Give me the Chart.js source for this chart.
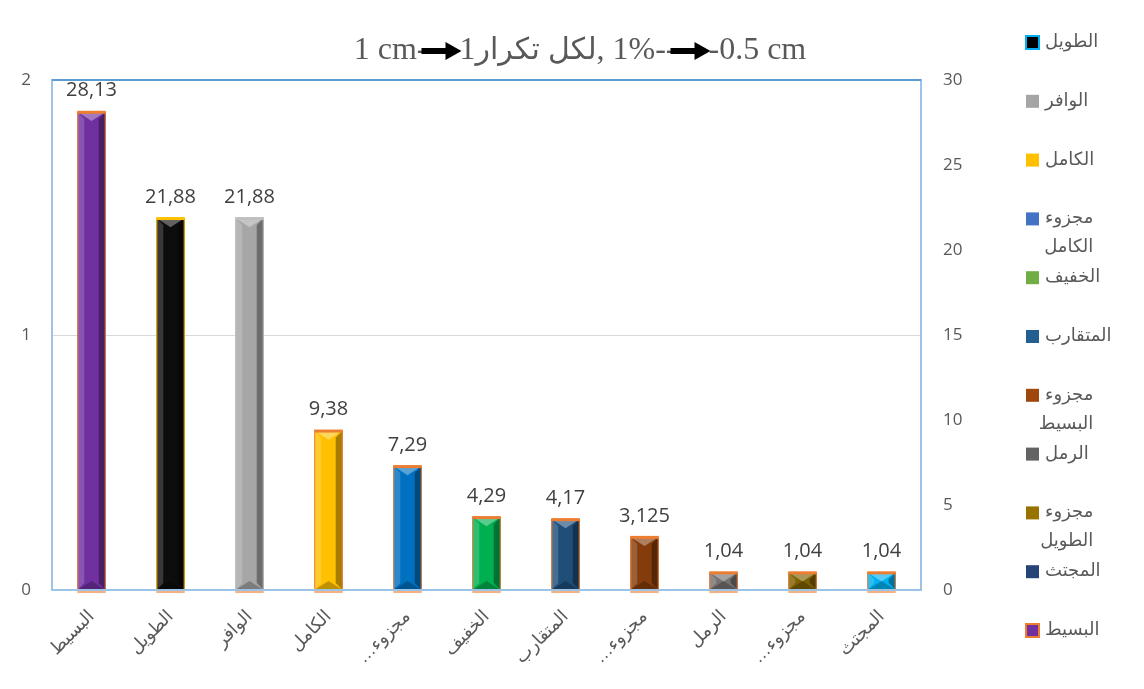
<!DOCTYPE html>
<html>
<head>
<meta charset="utf-8">
<script src="https://cdn.jsdelivr.net/npm/chart.js@4.4.0/dist/chart.umd.min.js"></script>
<style>
    html, body { margin: 0; padding: 0; background: #fff; }
    #wrap { width: 1144px; height: 689px; position: relative; }
</style>
</head>
<body>
<div id="wrap"><canvas id="myChart" width="1144" height="689"></canvas></div>
<script>
    // البحور الشعرية ونسبها
    const categories = ['البسيط', 'الطويل', 'الوافر', 'الكامل', 'مجزوء الكامل', 'الخفيف',
        'المتقارب', 'مجزوء البسيط', 'الرمل', 'مجزوء الطويل', 'المجتث'];
    const percents = [28.13, 21.88, 21.88, 9.38, 7.29, 4.29, 4.17, 3.125, 1.04, 1.04, 1.04];
    const barColors = ['#7030A0', '#0D0D0D', '#A6A6A6', '#FFC000', '#0070C0', '#00B050',
        '#1F4E79', '#843C0C', '#767171', '#7F6000', '#00B0F0'];
    const capColors = ['#ED7D31', '#FFC000', '#BFBFBF', '#ED7D31', '#ED7D31', '#ED7D31',
        '#ED7D31', '#ED7D31', '#ED7D31', '#ED7D31', '#ED7D31'];

    const leftTicks = [0, 1, 2];
    const rightTicks = [0, 5, 10, 15, 20, 25, 30];

    const legendTexts = [['الطويل'], ['الوافر'], ['الكامل'], ['مجزوء', 'الكامل'], ['الخفيف'],
        ['المتقارب'], ['مجزوء', 'البسيط'], ['الرمل'], ['مجزوء', 'الطويل'], ['المجتث'], ['البسيط']];
    const legendColors = ['#000000', '#A5A5A5', '#FFC000', '#4472C4', '#70AD47',
        '#255E91', '#9E480E', '#636363', '#997300', '#264478', '#7030A0'];
    const legendBorders = ['#00B0F0', null, null, null, null, null, null, null, null, null, '#ED7D31'];

    const titleParts = ['1 cm-', '>', '1', 'لكل تكرار', ', 1%--', '>', '-0.5 cm'];

    const grey = '#595959';
    const arFont = '"Liberation Sans", "DejaVu Sans", sans-serif';
    const serifFont = '"Liberation Serif", "DejaVu Serif", serif';

    function fmt(v) {
        return String(v).replace('.', ',');
    }

    function isArabic(s) {
        return /[\u0600-\u06FF]/.test(s);
    }

    // relieve de las barras + etiquetas de valor
    const barStyle = {
        id: 'barStyle',
        afterDatasetsDraw(chart) {
            const ctx = chart.ctx;
            const meta = chart.getDatasetMeta(0);
            meta.data.forEach((bar, i) => {
                const w = bar.width;
                const x0 = bar.x - w / 2, x1 = bar.x + w / 2;
                const top = bar.y, bottom = bar.base;
                const b = Math.min(7, (bottom - top) / 2);
                ctx.save();
                // cara izquierda clara
                ctx.fillStyle = 'rgba(255,255,255,0.18)';
                ctx.beginPath();
                ctx.moveTo(x0, top); ctx.lineTo(x0 + b, top + b); ctx.lineTo(x0 + b, bottom - b); ctx.lineTo(x0, bottom);
                ctx.fill();
                // cara derecha oscura
                ctx.fillStyle = 'rgba(0,0,0,0.35)';
                ctx.beginPath();
                ctx.moveTo(x1, top); ctx.lineTo(x1 - b, top + b); ctx.lineTo(x1 - b, bottom - b); ctx.lineTo(x1, bottom);
                ctx.fill();
                // arriba
                ctx.fillStyle = 'rgba(255,255,255,0.35)';
                ctx.beginPath();
                ctx.moveTo(x0, top); ctx.lineTo(x1, top); ctx.lineTo(bar.x, top + b * 1.3);
                ctx.fill();
                // abajo
                ctx.fillStyle = 'rgba(0,0,0,0.25)';
                ctx.beginPath();
                ctx.moveTo(x0, bottom); ctx.lineTo(x1, bottom); ctx.lineTo(bar.x, bottom - b * 1.3);
                ctx.fill();
                // borde
                ctx.strokeStyle = capColors[i];
                ctx.lineWidth = 1;
                ctx.strokeRect(x0 + 0.5, top + 0.5, w - 1, bottom - top);
                ctx.fillStyle = capColors[i];
                ctx.fillRect(x0, top - 1, w, 3);
                ctx.fillStyle = '#F4B183';
                ctx.fillRect(x0, bottom, w, 3);

                ctx.fillStyle = '#404040';
                ctx.font = '20px "Open Sans", sans-serif';
                ctx.textAlign = 'center';
                ctx.textBaseline = 'bottom';
                ctx.fillText(fmt(percents[i]), bar.x, top - 11);
                ctx.restore();
            });
        }
    };

    // marco del área + título + leyenda
    const frame = {
        id: 'frame',
        afterDraw(chart) {
            const ctx = chart.ctx;
            const a = chart.chartArea;
            ctx.save();
            ctx.strokeStyle = '#9DC3E6';
            ctx.lineWidth = 2;
            ctx.strokeRect(a.left, a.top, a.right - a.left, a.bottom - a.top);
            ctx.strokeStyle = '#5B9BD5';
            ctx.beginPath(); ctx.moveTo(a.left, a.top); ctx.lineTo(a.right, a.top); ctx.stroke();

            // título
            ctx.textBaseline = 'middle';
            ctx.textAlign = 'left';
            const arrowLen = 40;
            const fontFor = p => isArabic(p) ? '30px ' + arFont : '32px ' + serifFont;
            let total = 0;
            titleParts.forEach(p => {
                if (p === '>') { total += arrowLen - 8; return; }
                ctx.font = fontFor(p);
                total += ctx.measureText(p).width;
            });
            let x = 580 - total / 2;
            const y = 51;
            titleParts.forEach(p => {
                if (p === '>') {
                    x -= 6;
                    ctx.fillStyle = '#000';
                    ctx.beginPath();
                    ctx.rect(x, y - 3, arrowLen - 14, 6);
                    ctx.moveTo(x + arrowLen - 16, y - 9);
                    ctx.lineTo(x + arrowLen, y);
                    ctx.lineTo(x + arrowLen - 16, y + 9);
                    ctx.closePath();
                    ctx.fill();
                    x += arrowLen - 2;
                } else {
                    ctx.font = fontFor(p);
                    ctx.fillStyle = grey;
                    ctx.fillText(p, x, y);
                    x += ctx.measureText(p).width;
                }
            });

            // leyenda
            ctx.font = '18px ' + arFont;
            legendTexts.forEach((lines, i) => {
                const cy = 42 + i * 58.8;
                ctx.fillStyle = legendColors[i];
                ctx.fillRect(1026, cy - 6, 13, 13);
                if (legendBorders[i]) {
                    ctx.strokeStyle = legendBorders[i];
                    ctx.lineWidth = 2;
                    ctx.strokeRect(1026, cy - 6, 13, 13);
                }
                ctx.fillStyle = grey;
                ctx.textAlign = 'left';
                ctx.fillText(lines[0], 1045, cy);
                const right = 1045 + ctx.measureText(lines[0]).width;
                if (lines[1]) {
                    ctx.textAlign = 'right';
                    ctx.fillText(lines[1], right, cy + 29);
                }
            });
            ctx.restore();
        }
    };

    var ctx = document.getElementById('myChart').getContext('2d');
    var myChart = new Chart(ctx, {
        type: 'bar',
        data: {
            labels: categories,
            datasets: [{
                data: percents,
                yAxisID: 'yRight',
                backgroundColor: barColors,
                borderWidth: 0,
                barPercentage: 0.36,
                categoryPercentage: 1
            }]
        },
        options: {
            responsive: false,
            animation: false,
            layout: { padding: { top: 80, left: 0, right: 0, bottom: 0 } },
            plugins: {
                legend: { display: false },
                title: { display: false },
                tooltip: { enabled: false }
            },
            scales: {
                x: {
                    grid: { display: false },
                    border: { display: false },
                    ticks: {
                        minRotation: 45, maxRotation: 45, padding: 8,
                        color: grey,
                        font: { size: 18, family: arFont },
                        callback: function (v) {
                            const l = this.getLabelForValue(v);
                            // RLM keeps the ellipsis on the Arabic side
                            return l.indexOf(' ') > 0 ? l.split(' ')[0] + '…\u200F' : l;
                        }
                    },
                    afterFit: s => { s.height = 99; }
                },
                yLeft: {
                    position: 'left',
                    min: 0, max: 2,
                    afterBuildTicks: s => { s.ticks = leftTicks.map(v => ({ value: v })); },
                    grid: { color: '#D9D9D9', drawTicks: false },
                    border: { display: false },
                    ticks: { padding: 21, color: grey, font: { size: 17, family: '"Open Sans", sans-serif' } },
                    afterFit: s => { s.width = 52; }
                },
                yRight: {
                    position: 'right',
                    min: 0, max: 30,
                    afterBuildTicks: s => { s.ticks = rightTicks.map(v => ({ value: v })); },
                    grid: { display: false, drawTicks: false },
                    border: { display: false },
                    ticks: { padding: 22, color: grey, font: { size: 17, family: '"Open Sans", sans-serif' } },
                    afterFit: s => { s.width = 223; }
                }
            }
        },
        plugins: [barStyle, frame]
    });
</script>
</body>
</html>
